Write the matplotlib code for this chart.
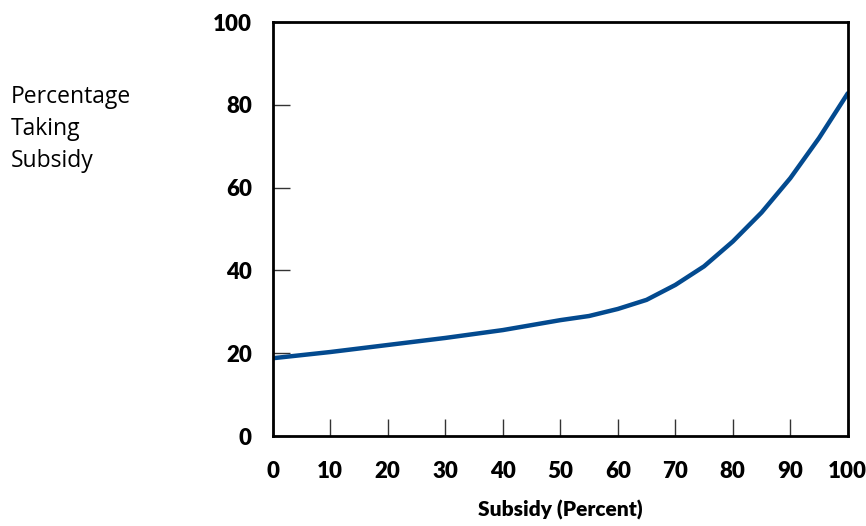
import numpy as np
import matplotlib.pyplot as plt

# values
subsidy = [0, 10, 20, 30, 40, 50, 55, 60, 65, 70, 75, 80, 85, 90, 95, 100]
taking = [18.8, 20.3, 22.0, 23.7, 25.6, 28.0, 29.0, 30.7, 32.9, 36.5, 41.0,
          47.0, 54.0, 62.3, 72.0, 82.8]
xticks = [0, 10, 20, 30, 40, 50, 60, 70, 80, 90, 100]
yticks = [0, 20, 40, 60, 80, 100]

fig = plt.figure(figsize=(8.66, 5.26), dpi=100)
ax = fig.add_axes([0.315, 0.171, 0.664, 0.787])

ax.plot(subsidy, taking, color='#034a8f', lw=3.2, solid_capstyle='round')

ax.set_xlim(0, 100)
ax.set_ylim(0, 100)
ax.set_xticks(xticks)
ax.set_yticks(yticks)
ax.tick_params(direction='in', length=12, width=1, color='#333333')
ax.tick_params(axis='y', pad=15)
ax.tick_params(axis='x', pad=18)
for lab in ax.get_xticklabels() + ax.get_yticklabels():
    lab.set_fontfamily('Lato')
    lab.set_fontweight('heavy')
    lab.set_fontsize(16)
for sp in ax.spines.values():
    sp.set_linewidth(2)

ax.set_xlabel('Subsidy (Percent)', fontfamily='Lato', fontweight='heavy',
              fontsize=15, labelpad=13)

fig.text(0.012, 0.839, 'Percentage\nTaking\nSubsidy', fontfamily='Open Sans',
         fontsize=16.5, va='top', ha='left', linespacing=1.45)

fig.savefig('out.png', dpi=100)
